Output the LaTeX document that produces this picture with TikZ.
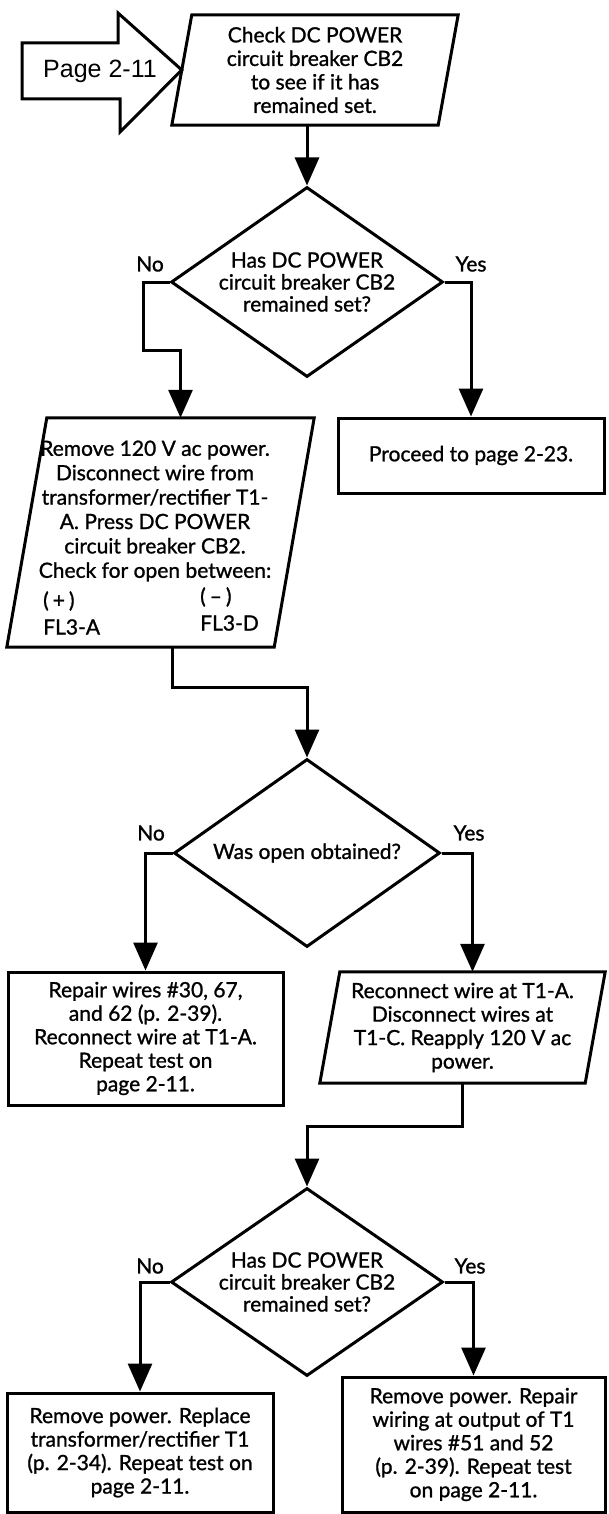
\documentclass[tikz,border=0pt]{standalone}
\usepackage{fontspec}
\setmainfont{Lato}[FakeBold=1.1]
\newfontfamily\pagefamily{Liberation Sans}
\usetikzlibrary{arrows.meta,shapes.geometric,calc}

\newcommand\bodysize{\fontsize{21}{23.5}\selectfont}
\newcommand\widesize{\fontsize{21}{24.4}\selectfont}
\newcommand\qsize{\fontsize{21}{22}\selectfont}

% outline of a slanted (input/output) box around a rectangular node
\newcommand\slantoutline[2]{%
  \draw[flow] ($(#1.south west)+(-#2,0)$) -- ($(#1.north west)+(#2,0)$)
    -- ($(#1.north east)+(#2,0)$) -- ($(#1.south east)+(-#2,0)$) -- cycle;}

\tikzset{
  flow/.style={line width=3pt, line join=miter},
  conn/.style={flow, -{Triangle[length=28pt,width=24pt]}},
  procbox/.style={draw, flow, rectangle, inner sep=0pt, align=center, font=\bodysize},
  slantbox/.style={rectangle, inner sep=0pt, align=center, font=\bodysize},
  decision/.style={draw, flow, diamond, inner sep=0pt},
  qtext/.style={inner sep=0pt, align=center, font=\qsize},
  txt/.style={inner sep=0pt, align=center, font=\widesize},
  lbl/.style={inner sep=0pt, font=\bodysize},
}

\begin{document}
\begin{tikzpicture}[x=1pt,y=-1pt]
\useasboundingbox (0,0) rectangle (608,1514);

% ---- entry check
\node[slantbox, minimum width=266pt, minimum height=110pt] (check) at (315,70)
  {Check DC POWER\\circuit breaker CB2\\to see if it has\\remained set.};
\slantoutline{check}{10}

% entry arrow from page 2-11
\draw[flow] (22,43) -- (118,43) -- (118,13) -- (check.west) -- (120,132)
  -- (120,99) -- (22,99) -- cycle;
\node[inner sep=0pt, font=\pagefamily\fontsize{25}{28}\selectfont] (pagelbl) at (100,71) {Page 2-11};

% ---- first decision
\node[decision, minimum width=272pt, minimum height=190pt] (d1) at (307,282) {};
\node[qtext] (d1t) at (d1) {Has DC POWER\\circuit breaker CB2\\remained set?};
\node[lbl] (d1no) at (150,264) {No};
\node[lbl] (d1yes) at (471,264) {Yes};

\node[slantbox, minimum width=267pt, minimum height=229pt] (remove) at (160.5,532.5) {};
\slantoutline{remove}{20}
\node[txt] (removet) at (155,511) {Remove 120 V ac power.\\Disconnect wire from\\transformer/rectifier T1-\\A. Press DC POWER\\circuit breaker CB2.\\Check for open between:};
\node[lbl, anchor=west] (plus) at (43,601) {(\kern4pt+\kern4pt)};
\node[lbl, anchor=west] (fla) at (43,627) {FL3-A};
\node[lbl, anchor=west] (minus) at (200,597) {(\kern4pt–\kern4pt)};
\node[lbl, anchor=west] (fld) at (200,623) {FL3-D};

\node[procbox, minimum width=266pt, minimum height=75pt] (proceed) at (471,455.5)
  {Proceed to page 2-23.};

% ---- second decision
\node[decision, minimum width=266pt, minimum height=188pt] (d2) at (307,853) {};
\node[qtext] (d2t) at (d2) {Was open obtained?};
\node[lbl] (d2no) at (151,833) {No};
\node[lbl] (d2yes) at (469,833) {Yes};

\node[procbox, minimum width=275pt, minimum height=133pt] (repair) at (145.5,1038.5)
  {Repair wires \#30, 67,\\and 62 (p. 2-39).\\Reconnect wire at T1-A.\\Repeat test on\\page 2-11.};

\node[slantbox, minimum width=265pt, minimum height=111pt] (reconnect) at (462.5,1027.5)
  {Reconnect wire at T1-A.\\Disconnect wires at\\T1-C. Reapply 120 V ac\\power.};
\slantoutline{reconnect}{10}

% ---- third decision
\node[decision, minimum width=272pt, minimum height=188pt] (d3) at (307,1282) {};
\node[qtext] (d3t) at (d3) {Has DC POWER\\circuit breaker CB2\\remained set?};
\node[lbl] (d3no) at (150,1266) {No};
\node[lbl] (d3yes) at (470,1266) {Yes};

\node[procbox, minimum width=266pt, minimum height=119pt] (replace) at (140,1452.5)
  {Remove power. Replace\\transformer/rectifier T1\\(p. 2-34). Repeat test on\\page 2-11.};
\node[procbox, minimum width=263pt, minimum height=135pt] (rewire) at (473.5,1444.5)
  {Remove power. Repair\\wiring at output of T1\\wires \#51 and 52\\(p. 2-39). Repeat test\\on page 2-11.};

% ---- connectors
\coordinate (j1) at (143,350);
\coordinate (j2) at (307,687);
\coordinate (j3) at (307,1126);

\draw[conn] (check.south -| d1.north) -- (d1.north);
\draw[conn] (d1.west) -| (j1) -- (j1 -| {$(remove.north)+(20,0)$}) -- ($(remove.north)+(20,0)$);
\draw[conn] (d1.east) -| (proceed.north);
\draw[conn] ($(remove.south)+(12,0)$) |- (j2) -- (d2.north);
\draw[conn] (d2.west) -| (repair.north);
\draw[conn] (d2.east) -| ($(reconnect.north)+(10,0)$);
\draw[conn] (reconnect.south) |- (j3) -- (d3.north);
\draw[conn] (d3.west) -| (replace.north);
\draw[conn] (d3.east) -| (rewire.north);
\end{tikzpicture}
\end{document}
